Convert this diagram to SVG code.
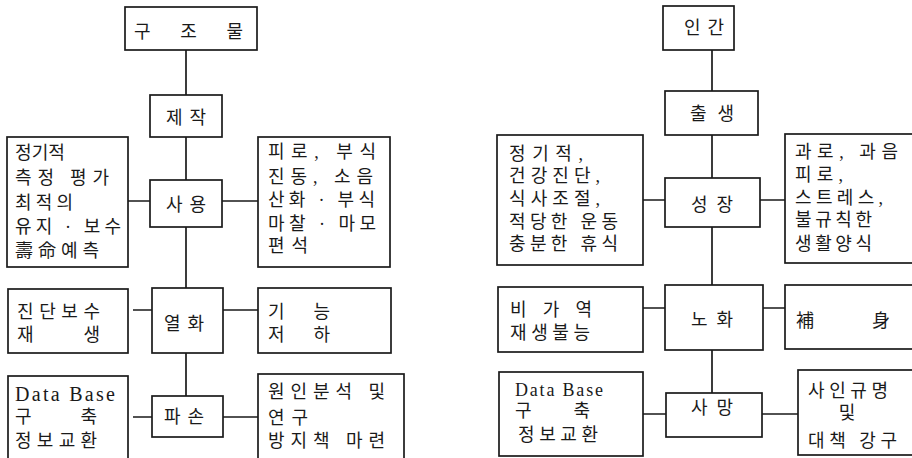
<svg xmlns="http://www.w3.org/2000/svg" width="912" height="458" viewBox="0 0 912 458">
<style>
.box{fill:#fff;stroke:#1a1a1a;stroke-width:1.7}
.ln{stroke:#1a1a1a;stroke-width:1.7;fill:none}
.t{font-family:"Liberation Serif","Noto Sans CJK KR",serif;font-size:18px;fill:#1a1a1a}
.m{text-anchor:middle}
.e{font-size:20px}
</style>
<rect width="912" height="458" fill="#fff"/>
<g id="connectors">
<path class="ln" d="M186 50V95M186 137V180M186 227V288M186 353V396"/>
<path class="ln" d="M128 201H150M222 201H258M133 310H152M223 310H258M133 417H152M223 417H258"/>
<path class="ln" d="M712 50V91M712 135V178M712 227V285M712 350V393"/>
<path class="ln" d="M643 200H665M760 200H785M643 308H665M763 308H785M643 414H666M762 414H798"/>
</g>
<g id="n-structure"><rect class="box" x="125" y="7" width="132" height="43"/><text class="t" x="134" y="38" textLength="109" lengthAdjust="spacing">구 조 물</text></g>
<g id="n-make"><rect class="box" x="150" y="95" width="72" height="42"/><text class="t m" x="186" y="124" textLength="40" lengthAdjust="spacing">제작</text></g>
<g id="n-use"><rect class="box" x="150" y="180" width="72" height="47"/><text class="t m" x="186" y="211" textLength="40" lengthAdjust="spacing">사용</text></g>
<g id="n-degrade"><rect class="box" x="152" y="288" width="71" height="65"/><text class="t m" x="184" y="330" textLength="40" lengthAdjust="spacing">열화</text></g>
<g id="n-damage"><rect class="box" x="152" y="396" width="71" height="41"/><text class="t m" x="184" y="423" textLength="40" lengthAdjust="spacing">파손</text></g>
<g id="n-use-left"><rect class="box" x="7" y="137" width="121" height="130"/>
<text class="t" x="15" y="159" textLength="50" lengthAdjust="spacingAndGlyphs">정기적</text>
<text class="t" x="15" y="184" textLength="94" lengthAdjust="spacing">측정 평가</text>
<text class="t" x="15" y="209" textLength="58" lengthAdjust="spacing">최적의</text>
<text class="t" x="15" y="233" textLength="106" lengthAdjust="spacing">유지 · 보수</text>
<text class="t" x="15" y="257" textLength="84" lengthAdjust="spacing">壽命예측</text>
</g>
<g id="n-use-right"><rect class="box" x="258" y="137" width="132" height="130"/>
<text class="t" x="268" y="158" textLength="108" lengthAdjust="spacing">피로, 부식</text>
<text class="t" x="268" y="183" textLength="105" lengthAdjust="spacing">진동, 소음</text>
<text class="t" x="268" y="206" textLength="107" lengthAdjust="spacing">산화 · 부식</text>
<text class="t" x="268" y="230" textLength="108" lengthAdjust="spacing">마찰 · 마모</text>
<text class="t" x="268" y="252" textLength="40" lengthAdjust="spacing">편석</text>
</g>
<g id="n-degrade-left"><rect class="box" x="8" y="289" width="120" height="64"/>
<text class="t" x="17" y="318" textLength="83" lengthAdjust="spacing">진단보수</text>
<text class="t" x="17" y="341" textLength="83" lengthAdjust="spacing">재 생</text>
</g>
<g id="n-degrade-right"><rect class="box" x="258" y="288" width="133" height="65"/>
<text class="t" x="268" y="318" textLength="62" lengthAdjust="spacing">기 능</text>
<text class="t" x="268" y="341" textLength="62" lengthAdjust="spacing">저 하</text>
</g>
<g id="n-damage-left"><rect class="box" x="8" y="376" width="120" height="100"/>
<text class="t e" x="15" y="401" textLength="100" lengthAdjust="spacing">Data Base</text>
<text class="t" x="15" y="423" textLength="82" lengthAdjust="spacing">구 축</text>
<text class="t" x="15" y="447" textLength="82" lengthAdjust="spacing">정보교환</text>
</g>
<g id="n-damage-right"><rect class="box" x="258" y="374" width="146" height="102"/>
<text class="t" x="268" y="398" textLength="117" lengthAdjust="spacing">원인분석 및</text>
<text class="t" x="268" y="424" textLength="40" lengthAdjust="spacing">연구</text>
<text class="t" x="268" y="447" textLength="117" lengthAdjust="spacing">방지책 마련</text>
</g>
<g id="n-human"><rect class="box" x="663" y="6" width="71" height="44"/><text class="t m" x="704" y="34" textLength="40" lengthAdjust="spacing">인간</text></g>
<g id="n-birth"><rect class="box" x="665" y="91" width="93" height="44"/><text class="t m" x="712" y="120" textLength="44" lengthAdjust="spacing">출생</text></g>
<g id="n-growth"><rect class="box" x="665" y="178" width="95" height="49"/><text class="t m" x="712" y="211" textLength="42" lengthAdjust="spacing">성장</text></g>
<g id="n-aging"><rect class="box" x="665" y="285" width="98" height="65"/><text class="t m" x="712" y="326" textLength="42" lengthAdjust="spacing">노화</text></g>
<g id="n-death"><rect class="box" x="666" y="393" width="96" height="44"/><text class="t m" x="712" y="414" textLength="42" lengthAdjust="spacing">사망</text></g>
<g id="n-growth-left"><rect class="box" x="497" y="135" width="146" height="130"/>
<text class="t" x="509" y="160" textLength="74" lengthAdjust="spacing">정기적,</text>
<text class="t" x="509" y="182" textLength="91" lengthAdjust="spacing">건강진단,</text>
<text class="t" x="509" y="205" textLength="91" lengthAdjust="spacing">식사조절,</text>
<text class="t" x="509" y="228" textLength="109" lengthAdjust="spacing">적당한 운동</text>
<text class="t" x="509" y="250" textLength="109" lengthAdjust="spacing">충분한 휴식</text>
</g>
<g id="n-growth-right"><rect class="box" x="785" y="134" width="140" height="129"/>
<text class="t" x="795" y="158" textLength="103" lengthAdjust="spacing">과로, 과음</text>
<text class="t" x="795" y="181" textLength="48" lengthAdjust="spacing">피로,</text>
<text class="t" x="795" y="204" textLength="88" lengthAdjust="spacing">스트레스,</text>
<text class="t" x="795" y="226" textLength="77" lengthAdjust="spacing">불규칙한</text>
<text class="t" x="795" y="250" textLength="77" lengthAdjust="spacing">생활양식</text>
</g>
<g id="n-aging-left"><rect class="box" x="498" y="287" width="145" height="65"/>
<text class="t" x="510" y="316" textLength="82" lengthAdjust="spacing">비 가 역</text>
<text class="t" x="510" y="339" textLength="80" lengthAdjust="spacing">재생불능</text>
</g>
<g id="n-aging-right"><rect class="box" x="785" y="285" width="140" height="64"/>
<text class="t" x="796" y="327" textLength="94" lengthAdjust="spacing">補 身</text>
</g>
<g id="n-death-left"><rect class="box" x="499" y="372" width="144" height="84"/>
<text class="t" x="515" y="396" textLength="88" lengthAdjust="spacing">Data Base</text>
<text class="t" x="515" y="417" textLength="75" lengthAdjust="spacing">구 축</text>
<text class="t" x="518" y="441" textLength="80" lengthAdjust="spacing">정보교환</text>
</g>
<g id="n-death-right"><rect class="box" x="798" y="370" width="130" height="85"/>
<text class="t" x="808" y="397" textLength="80" lengthAdjust="spacing">사인규명</text>
<text class="t m" x="847" y="419">및</text>
<text class="t" x="808" y="447" textLength="89" lengthAdjust="spacing">대책 강구</text>
</g>
</svg>
